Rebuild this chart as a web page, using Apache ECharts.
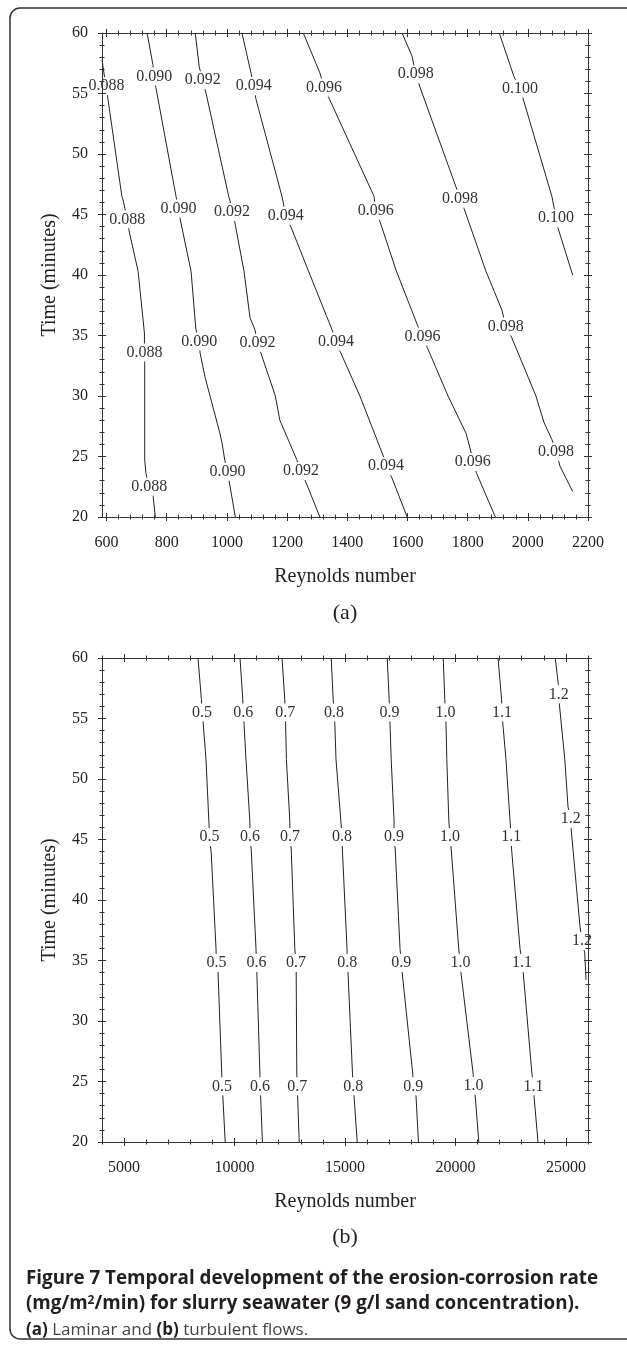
<!DOCTYPE html>
<html>
<head>
<meta charset="utf-8">
<script src="https://cdn.jsdelivr.net/npm/echarts@6/dist/echarts.min.js"></script>
<style>
html, body { margin: 0; padding: 0; background: #fff; }
#chart { width: 627px; height: 1345px; }
</style>
</head>
<body>
<div id="chart"></div>
<script>
// (a) laminar flow: contour lines as [Reynolds number, time (min)]
const lam088 = [[585,57.8],[592,56.6],[600,55.6],[605,54.5],[651,46.5],[655,46.2],[669,44.6],[674,43.75],[705,40.3],[726,35.2],[726,33.6],[727,32.7],[727,24.7],[731,23.6],[742,22.5],[755,21.7],[762,20]];
const lam090 = [[735,60],[754,57.4],[759,56.4],[764,55.5],[831,46.5],[839,45.5],[844,44.7],[881,40.3],[897,35.5],[908,34.5],[911,33.55],[927,31.6],[977,26.9],[984,26.1],[993,24.7],[1002,23.75],[1008,22.9],[1028,20]];
const lam092 = [[895,60],[908,57.2],[920,56.1],[931,55],[1006,46.5],[1010,46.2],[1017,45.2],[1026,44.4],[1057,40.3],[1077,36.45],[1093,35.5],[1102,34.4],[1113,33.55],[1161,30],[1176,28],[1232,24.75],[1246,23.8],[1259,23.1],[1309,20]];
const lam094 = [[1050,60],[1081,56.6],[1089,55.6],[1097,54.5],[1183,46.5],[1196,44.9],[1214,43.9],[1270,40.4],[1349,35.5],[1363,34.5],[1376,33.7],[1442,30],[1522,24.9],[1529,24.2],[1549,23.2],[1599,20]];
const lam096 = [[1254,60],[1309,56.7],[1323,55.5],[1336,54.8],[1489,46.5],[1495,45.3],[1509,44.4],[1562,40.4],[1635,35.75],[1650,34.9],[1666,34],[1735,30],[1795,26.9],[1812,25.3],[1817,24.55],[1830,23.6],[1892,20]];
const lam098 = [[1582,60],[1615,58.1],[1628,56.6],[1642,55.5],[1761,47.3],[1775,46.3],[1788,45.5],[1861,40.3],[1914,37.1],[1927,35.75],[1947,34.8],[2027,30],[2054,27.8],[2080,26.4],[2094,25.4],[2107,24.2],[2149,22.1]];
const lam100 = [[1905,60],[1954,56.4],[1974,55.4],[1987,54.35],[2080,46.5],[2094,44.7],[2100,43.9],[2149,40]];
const lamLabels = [
  [600,55.6,'0.088'],[669,44.6,'0.088'],[726,33.6,'0.088'],[742,22.5,'0.088'],
  [759,56.4,'0.090'],[839,45.5,'0.090'],[908,34.5,'0.090'],[1002,23.75,'0.090'],
  [920,56.1,'0.092'],[1017,45.2,'0.092'],[1102,34.4,'0.092'],[1246,23.8,'0.092'],
  [1089,55.6,'0.094'],[1196,44.9,'0.094'],[1363,34.5,'0.094'],[1529,24.2,'0.094'],
  [1323,55.5,'0.096'],[1495,45.3,'0.096'],[1650,34.9,'0.096'],[1817,24.55,'0.096'],
  [1628,56.6,'0.098'],[1775,46.3,'0.098'],[1927,35.75,'0.098'],[2094,25.4,'0.098'],
  [1974,55.4,'0.100'],[2094,44.7,'0.100']
];

// (b) turbulent flow
const turb05 = [[8346,60],[8500,56.55],[8527,55.5],[8581,54.6],[8708,51.6],[8835,46.6],[8871,45.2],[8944,43.9],[9161,36],[9179,34.8],[9251,34.1],[9420,25.7],[9432,24.6],[9469,23.8],[9577,20]];
const turb06 = [[10247,60],[10374,56.55],[10392,55.5],[10428,54.6],[10519,51.6],[10690,46.6],[10700,45.2],[10754,44.2],[10971,36],[10990,34.8],[11008,34],[11150,25.6],[11153,24.6],[11180,23.8],[11261,20]];
const turb07 = [[12148,60],[12275,56.55],[12290,55.5],[12311,54.6],[12348,51.6],[12500,46.6],[12510,45.2],[12565,44.2],[12728,36],[12782,34.8],[12790,34.1],[12818,25.6],[12836,24.6],[12855,23.8],[12927,20]];
const turb08 = [[14376,60],[14466,56.55],[14502,55.5],[14539,54.6],[14593,51.6],[14810,46.6],[14864,45.2],[14880,44.2],[15090,36],[15100,34.8],[15136,34],[15340,25.6],[15371,24.6],[15408,23.8],[15553,20]];
const turb09 = [[16911,60],[17001,56.55],[17019,55.5],[17037,54.6],[17092,51.6],[17219,46.6],[17219,45.2],[17273,44.2],[17490,36],[17545,34.8],[17581,34.1],[18070,25.6],[18088,24.6],[18214,23.8],[18325,20]];
const turb10 = [[19446,60],[19518,56.55],[19545,55.5],[19572,54.6],[19609,51.6],[19699,46.6],[19754,45.2],[19808,44.2],[20152,35.9],[20224,34.8],[20242,34.1],[20804,25.6],[20822,24.65],[20894,23.8],[21057,20]];
const turb11 = [[21926,60],[22090,56.55],[22107,55.5],[22143,54.6],[22288,51.6],[22469,46.6],[22524,45.2],[22540,44.2],[22922,36],[23013,34.8],[23067,34],[23465,25.6],[23538,24.6],[23556,23.8],[23737,20]];
const turb12 = [[24516,60],[24660,57.8],[24680,57],[24697,56.3],[24950,51.6],[25095,47.7],[25222,46.7],[25240,45.8],[25638,37.8],[25728,36.6],[25855,35.6],[25910,33.4]];
const turbLabels = [
  [8527,55.5,'0.5'],[8871,45.2,'0.5'],[9179,34.8,'0.5'],[9432,24.6,'0.5'],
  [10392,55.5,'0.6'],[10700,45.2,'0.6'],[10990,34.8,'0.6'],[11153,24.6,'0.6'],
  [12290,55.5,'0.7'],[12510,45.2,'0.7'],[12782,34.8,'0.7'],[12836,24.6,'0.7'],
  [14502,55.5,'0.8'],[14864,45.2,'0.8'],[15100,34.8,'0.8'],[15371,24.6,'0.8'],
  [17019,55.5,'0.9'],[17219,45.2,'0.9'],[17545,34.8,'0.9'],[18088,24.6,'0.9'],
  [19545,55.5,'1.0'],[19754,45.2,'1.0'],[20224,34.8,'1.0'],[20822,24.65,'1.0'],
  [22107,55.5,'1.1'],[22524,45.2,'1.1'],[23013,34.8,'1.1'],[23538,24.6,'1.1'],
  [24680,57,'1.2'],[25222,46.7,'1.2'],[25728,36.6,'1.2']
];

// tick positions
const timeMajor = [20, 25, 30, 35, 40, 45, 50, 55, 60];
const lamMajor = [600, 800, 1000, 1200, 1400, 1600, 1800, 2000, 2200];
const turbMajor = [5000, 10000, 15000, 20000, 25000];

function steps(from, to, step) {
  const out = [];
  for (let v = from; v <= to + 1e-9; v += step) out.push(v);
  return out;
}
const timeMinor = steps(20, 60, 1);
const lamMinor = steps(600, 2200, 40);
const turbMinor = steps(4000, 26000, 1000);

const serif = 'Liberation Serif';
const ink = '#222';

// one boxed axis pair: ticks crossing the line on both sides, mirrored on the far side
function boxAxes(dim, gridIndex, min, max, majors, minors, name, nameGap) {
  const sides = dim === 'x' ? ['bottom', 'top'] : ['left', 'right'];
  const out = [];
  sides.forEach((side, si) => {
    [[majors, 4], [minors, 2.5]].forEach(([vals, len], ti) => {
      [false, true].forEach((inside, ii) => {
        const main = si === 0 && ti === 0 && ii === 0;
        out.push({
          type: 'value',
          gridIndex: gridIndex,
          position: side,
          min: min,
          max: max,
          z: 5,
          axisLine: { show: ti === 0 && ii === 0, onZero: false, lineStyle: { color: '#333', width: 1 } },
          axisTick: { show: true, inside: inside, length: len, customValues: vals, lineStyle: { color: '#333', width: 1 } },
          axisLabel: main
            ? { show: true, customValues: majors, formatter: v => String(v), margin: dim === 'x' ? 18 : 14, fontFamily: serif, fontSize: 16, color: ink }
            : { show: false },
          splitLine: { show: false },
          name: main ? name : '',
          nameLocation: 'middle',
          nameGap: nameGap,
          nameTextStyle: { fontFamily: serif, fontSize: 20, color: ink }
        });
      });
    });
  });
  return out;
}

function contour(data, xi, yi) {
  return {
    type: 'line', data: data, xAxisIndex: xi, yAxisIndex: yi,
    symbol: 'none', showSymbol: false, silent: true, z: 2,
    lineStyle: { color: ink, width: 1 }
  };
}
// level labels sit on the line; their white box cuts the gap
function labels(data, xi, yi) {
  return {
    type: 'scatter', data: data, xAxisIndex: xi, yAxisIndex: yi,
    symbolSize: 0, itemStyle: { color: 'rgba(0,0,0,0)' }, silent: true, z: 4,
    label: {
      show: true, position: 'inside', formatter: p => p.value[2],
      fontFamily: serif, fontSize: 16, color: '#333', opacity: 1,
      backgroundColor: '#fff', padding: [1, 2]
    }
  };
}

const chart = echarts.init(document.getElementById('chart'));
chart.setOption({
  animation: false,
  backgroundColor: '#fff',
  grid: [
    { left: 102, width: 486, top: 33, height: 484 },
    { left: 102, width: 486, top: 658, height: 484 }
  ],
  xAxis: [
    ...boxAxes('x', 0, 585, 2200, lamMajor, lamMinor, 'Reynolds number', 50),
    ...boxAxes('x', 1, 4000, 26000, turbMajor, turbMinor, 'Reynolds number', 50)
  ],
  yAxis: [
    ...boxAxes('y', 0, 20, 60, timeMajor, timeMinor, 'Time (minutes)', 42),
    ...boxAxes('y', 1, 20, 60, timeMajor, timeMinor, 'Time (minutes)', 42)
  ],
  series: [
    ...[lam088, lam090, lam092, lam094, lam096, lam098, lam100].map(d => contour(d, 0, 0)),
    labels(lamLabels, 0, 0),
    ...[turb05, turb06, turb07, turb08, turb09, turb10, turb11, turb12].map(d => contour(d, 8, 8)),
    labels(turbLabels, 8, 8)
  ],
  graphic: [
    {
      type: 'rect', silent: true,
      shape: { x: 10, y: 8, width: 660, height: 1331, r: 10 },
      style: { fill: 'none', stroke: '#333', lineWidth: 1.5 }
    },
    {
      type: 'text', x: 345, y: 613, silent: true,
      style: { text: '(a)', fontFamily: serif, fontSize: 22, fill: ink, align: 'center', verticalAlign: 'middle' }
    },
    {
      type: 'text', x: 345, y: 1237, silent: true,
      style: { text: '(b)', fontFamily: serif, fontSize: 22, fill: ink, align: 'center', verticalAlign: 'middle' }
    },
    {
      type: 'text', x: 26, y: 1279, silent: true,
      style: {
        text: '{b|Figure 7 Temporal development of the erosion-corrosion rate}',
        verticalAlign: 'middle',
        rich: { b: { fontFamily: 'Open Sans', fontWeight: 'bold', fontSize: 18.8, fill: '#231f20' } }
      }
    },
    {
      type: 'text', x: 26, y: 1304, silent: true,
      style: {
        text: '{b|(mg/m}{sup|2}{b|/min) for slurry seawater (9 g/l sand concentration).}',
        verticalAlign: 'middle',
        rich: {
          b: { fontFamily: 'Open Sans', fontWeight: 'bold', fontSize: 18.8, fill: '#231f20' },
          sup: { fontFamily: 'Open Sans', fontWeight: 'bold', fontSize: 12, fill: '#231f20', verticalAlign: 'top' }
        }
      }
    },
    {
      type: 'text', x: 26, y: 1330, silent: true,
      style: {
        text: '{b|(a)}{r| Laminar and }{b|(b)}{r| turbulent flows.}',
        verticalAlign: 'middle',
        rich: {
          b: { fontFamily: 'Open Sans', fontWeight: 'bold', fontSize: 17, fill: '#231f20' },
          r: { fontFamily: 'Open Sans', fontSize: 17, fill: '#444' }
        }
      }
    }
  ]
});
</script>
</body>
</html>
